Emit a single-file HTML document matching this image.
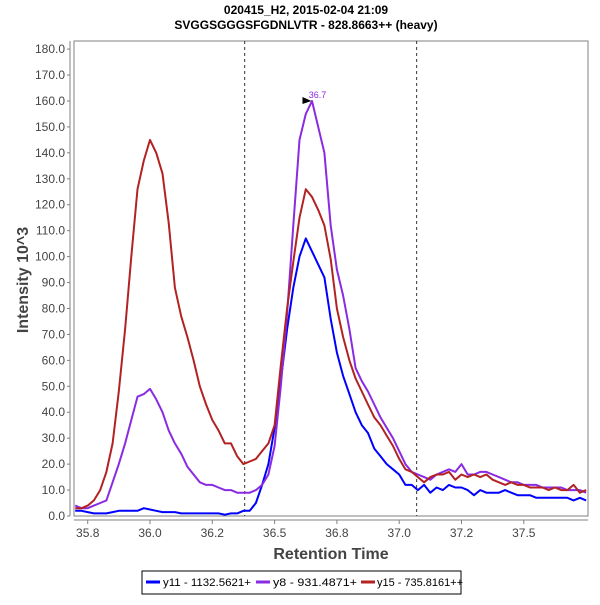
<!DOCTYPE html>
<html><head><meta charset="utf-8"><style>
body{margin:0;background:#fff;width:600px;height:600px;overflow:hidden;font-family:"Liberation Sans",sans-serif}
svg text{font-family:"Liberation Sans",sans-serif}
</style></head><body>
<svg id="chart" width="600" height="600">
<text x="306" y="14" text-anchor="middle" font-size="12" font-weight="bold">020415_H2, 2015-02-04 21:09</text>
<text x="306" y="29" text-anchor="middle" font-size="12" font-weight="bold">SVGGSGGGSFGDNLVTR - 828.8663++ (heavy)</text>
<rect x="74" y="41" width="514" height="475" fill="#fff" stroke="#808080"/>
<g id="axes"></g>
<g id="series"></g>
<text x="0" y="0" transform="translate(28,280) rotate(-90)" text-anchor="middle" font-size="16" font-weight="bold" fill="#444">Intensity 10^3</text>
<text x="331" y="559" text-anchor="middle" font-size="16" font-weight="bold" fill="#444">Retention Time</text>
<g>
<rect x="142" y="571" width="319" height="23" fill="#fff" stroke="#000"/>
<line x1="146" y1="582" x2="160" y2="582" stroke="#0000ff" stroke-width="3"/>
<text x="163" y="586" font-size="11" textLength="88" lengthAdjust="spacingAndGlyphs">y11 - 1132.5621+</text>
<line x1="256" y1="582" x2="270" y2="582" stroke="#8a2be2" stroke-width="3"/>
<text x="273" y="586" font-size="11" textLength="84" lengthAdjust="spacingAndGlyphs">y8 - 931.4871+</text>
<line x1="361" y1="582" x2="375" y2="582" stroke="#b22222" stroke-width="3"/>
<text x="377" y="586" font-size="11" textLength="86" lengthAdjust="spacingAndGlyphs">y15 - 735.8161++</text>
</g>
</svg>
<script>
const times=[35.700,35.725,35.750,35.775,35.800,35.825,35.850,35.875,35.900,35.925,35.950,35.975,36.000,36.025,36.050,36.075,36.100,36.125,36.150,36.175,36.200,36.225,36.250,36.275,36.300,36.325,36.350,36.375,36.400,36.425,36.450,36.475,36.500,36.525,36.550,36.575,36.600,36.625,36.650,36.675,36.700,36.725,36.750,36.775,36.800,36.825,36.850,36.875,36.900,36.925,36.950,36.975,37.000,37.025,37.050,37.075,37.100,37.125,37.150,37.175,37.200,37.225,37.250,37.275,37.300,37.325,37.350,37.375,37.400,37.425,37.450,37.475,37.500,37.525,37.550,37.575,37.600,37.625,37.650,37.675,37.700,37.725,37.750];
const y11=[2,2,1.5,1,1,1,1.5,2,2,2,2,3,2.5,2,1.5,1.5,1.5,1,1,1,1,1,1,1,0.5,1,1,2,2,5,12,20,34,52,72,88,100,107,102,97,92,76,63,54,47,40,35,32,26,23,20,18,16,12,12,10,12,9,11,10,12,11,11,10,8,10,9,9,9,10,9,8,8,8,7,7,7,7,7,7,6,7,6];
const y8=[4,3,3,4,5,6,13,20,28,37,46,47,49,45,40,33,28,24,19,16,13,12,12,11,10,10,9,9,9,10,12,16,27,50,78,112,145,155,160,150,140,112,95,85,72,57,52,48,43,38,34,30,25,20,17,16,15,14,16,17,18,17,20,16,16,17,17,16,15,14,13,13,12,12,12,11,11,11,11,10,10,10,9];
const y15=[3,3,4,6,10,17,28,48,72,100,126,137,145,140,132,113,88,77,69,60,50,43,37,33,28,28,23,20,21,22,25,28,35,58,80,98,115,126,123,118,112,99,80,69,60,53,48,43,38,35,31,27,22,18,17,15,13,15,16,16,17,14,16,15,16,15,16,14,13,12,13,12,12,11,11,11,10,11,10,10,12,9,10];
const yTicks=[0,10,20,30,40,50,60,70,80,90,100,110,120,130,140,150,160,170,180];
const xTicks=[35.75,36.0,36.25,36.5,36.75,37.0,37.25,37.5];
const xTickLabels=["35.8","36.0","36.2","36.5","36.8","37.0","37.2","37.5"];
const markers=[36.38,37.07];
const peakLabel={t:36.66,v:160,text:"36.7"};
const NS="http://www.w3.org/2000/svg";
const X=t=>150+(t-36)*249.2;
const Y=v=>516-v*2.594;
function mk(tag,attrs,parent){const e=document.createElementNS(NS,tag);for(const k in attrs)e.setAttribute(k,attrs[k]);parent.appendChild(e);return e;}
const ax=document.getElementById('axes');
mk('line',{x1:70,y1:41,x2:70,y2:516,stroke:'#808080'},ax);
mk('line',{x1:74,y1:520,x2:588,y2:520,stroke:'#808080'},ax);
yTicks.forEach(v=>{
 const l=mk('line',{x1:67,y1:Y(v),x2:70,y2:Y(v),stroke:'#808080'},ax);
 
 
 const t=mk('text',{x:65,y:Y(v)+4,'text-anchor':'end','font-size':'12',fill:'#444'},ax);
 t.textContent=v.toFixed(1);
 
 
});
xTicks.forEach((v,i)=>{
 const l=mk('line',{x1:X(v),y1:520,x2:X(v),y2:524,stroke:'#808080'},ax);
 
 
 const t=mk('text',{x:X(v),y:537,'text-anchor':'middle','font-size':'12',fill:'#444'},ax);
 t.textContent=xTickLabels[i];
 
 
});
markers.forEach(m=>{
 const l=mk('line',{x1:X(m),y1:41,x2:X(m),y2:516,stroke:'#333','stroke-dasharray':'3,3'},ax);
 
 
});
const sg=document.getElementById('series');
[[y11,'#0000ff','series-y11'],[y8,'#8a2be2','series-y8'],[y15,'#b22222','series-y15']].forEach(([d,c,n])=>{
 const pts=d.map((v,i)=>X(times[i]).toFixed(1)+','+Y(v).toFixed(1)).join(' ');
 const p=mk('polyline',{points:pts,fill:'none',stroke:c,'stroke-width':2,'stroke-linejoin':'round'},sg);
 
 
});
const px=X(peakLabel.t),py=Y(peakLabel.v);
const ar=mk('polygon',{points:`${px-12},${py-4} ${px-3},${py} ${px-12},${py+3}`,fill:'#000'},sg);


const pl=mk('text',{x:px+3,y:py-3,'text-anchor':'middle','font-size':'9',fill:'#8a2be2'},sg);
pl.textContent=peakLabel.text;


</script>
</body></html>
